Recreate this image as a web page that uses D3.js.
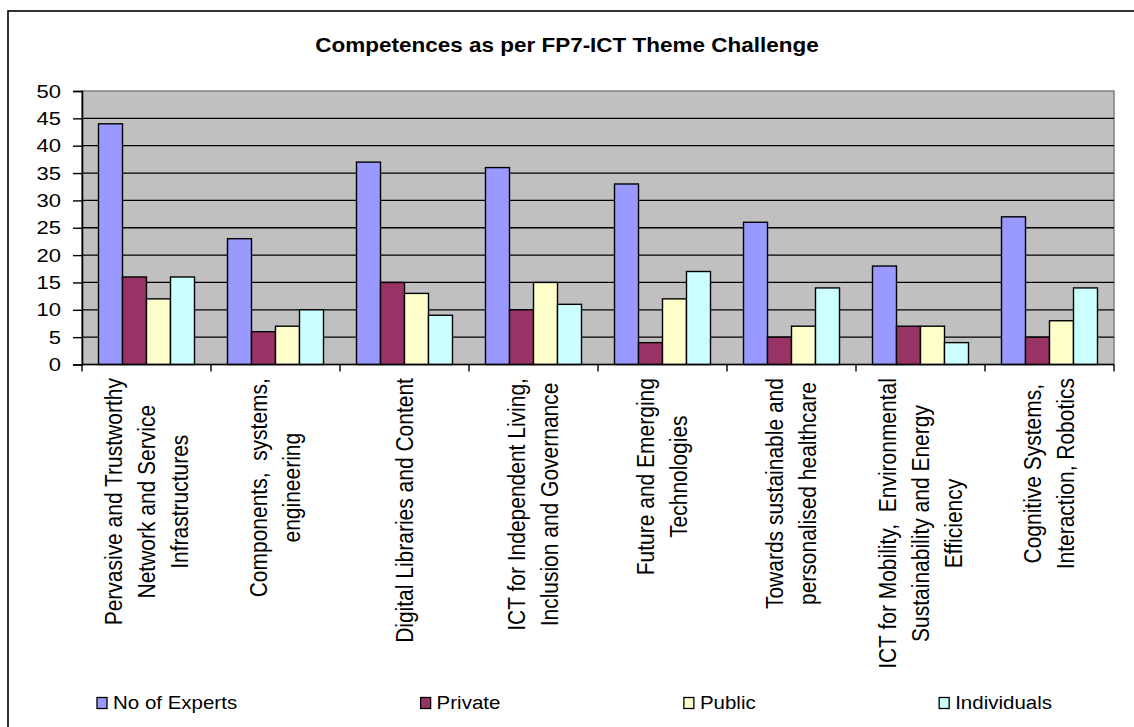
<!DOCTYPE html>
<html><head><meta charset="utf-8">
<script src="https://cdn.jsdelivr.net/npm/d3@7"></script>
<style>body{margin:0;background:#fff}svg{display:block}text{font-family:Arial,"Liberation Sans",sans-serif;white-space:pre}</style>
</head><body>
<svg id="c" width="1134" height="727"></svg>
<script>
const title = "Competences as per FP7-ICT Theme Challenge";
const categories = [
  "Pervasive and Trustworthy|Network and Service|Infrastructures",
  "Components,  systems,|engineering",
  "Digital Libraries and Content",
  "ICT for Independent Living,|Inclusion and Governance",
  "Future and Emerging|Technologies",
  "Towards sustainable and|personalised healthcare",
  "ICT for Mobility,  Environmental|Sustainability and Energy|Efficiency",
  "Cognitive Systems,|Interaction, Robotics"
];
const seriesNames = ["No of Experts", "Private", "Public", "Individuals"];
const experts = [44, 23, 37, 36, 33, 26, 18, 27];
const privateV = [16, 6, 15, 10, 4, 5, 7, 5];
const publicV = [12, 7, 13, 15, 12, 7, 7, 8];
const individuals = [16, 10, 9, 11, 17, 14, 4, 14];
const yTicks = [0, 5, 10, 15, 20, 25, 30, 35, 40, 45, 50];
const colors = ["#9999FF", "#993366", "#FFFFCC", "#CCFFFF"];

const series = [experts, privateV, publicV, individuals];
const svg = d3.select("#c");

// outer border
svg.append("rect").attr("x", 8).attr("y", 11).attr("width", 1200).attr("height", 800)
  .attr("fill", "#fff").attr("stroke", "#000").attr("stroke-width", 1.6);

const L = 82, R = 1114, T = 91, B = 364.5;
const x = d3.scaleBand().domain(d3.range(categories.length)).range([L, R]);
const y = d3.scaleLinear().domain([0, 50]).range([B, T]);
const groupW = 96;
const xs = d3.scaleBand().domain(d3.range(4)).range([0, groupW]);

// plot background
svg.append("rect").attr("x", L).attr("y", T).attr("width", R - L).attr("height", B - T)
  .attr("fill", "#C0C0C0").attr("stroke", "#808080").attr("stroke-width", 1.5);

// gridlines
svg.append("g").selectAll("line").data(yTicks.filter(d => d > 0 && d < 50)).join("line")
  .attr("x1", L).attr("x2", R).attr("y1", d => y(d)).attr("y2", d => y(d))
  .attr("stroke", "#000").attr("stroke-width", 1.3);

// bars
series.forEach((vals, si) => {
  svg.append("g").selectAll("rect").data(vals).join("rect")
    .attr("x", (d, i) => x(i) + (x.bandwidth() - groupW) / 2 + xs(si))
    .attr("y", d => y(d))
    .attr("width", xs.bandwidth())
    .attr("height", d => y(0) - y(d))
    .attr("fill", colors[si]).attr("stroke", "#000").attr("stroke-width", 1.4);
});

// y axis
const yAxis = svg.append("g").attr("transform", `translate(${L},0)`)
  .call(d3.axisLeft(y).tickValues(yTicks).tickSize(9).tickPadding(0).tickFormat(d3.format("d")));
yAxis.select(".domain").attr("stroke", "#000").attr("stroke-width", 1.6);
yAxis.selectAll(".tick line").attr("stroke", "#000").attr("stroke-width", 1.4);
yAxis.selectAll(".tick text").each(function(){
  const t = d3.select(this);
  t.attr("x", null).attr("dy", null).attr("fill", "#000").attr("font-size", 22)
   .attr("text-anchor", "end").attr("dominant-baseline", "central")
   .attr("transform", "translate(-21,0) scale(1,0.8)");
});
yAxis.attr("font-family", null);

// x axis
svg.append("line").attr("x1", L).attr("x2", R).attr("y1", B).attr("y2", B)
  .attr("stroke", "#000").attr("stroke-width", 1.6);
const xTicks = d3.range(categories.length + 1).map(i => i < categories.length ? x(i) : R);
svg.append("g").selectAll("line").data(xTicks).join("line")
  .attr("x1", d => d).attr("x2", d => d).attr("y1", B).attr("y2", B + 7)
  .attr("stroke", "#000").attr("stroke-width", 1.4);

// category labels (rotated)
const lineGap = 33;
categories.forEach((c, i) => {
  const lines = c.split("|");
  const g = svg.append("g")
    .attr("transform", `translate(${x(i) + x.bandwidth() / 2},378) rotate(-90)`);
  const texts = g.selectAll("text").data(lines).join("text")
    .attr("font-size", 21).attr("fill", "#000")
    .attr("text-anchor", "middle").attr("dominant-baseline", "central")
    .text(d => d);
  let W = 0;
  texts.each(function(){ W = Math.max(W, this.getComputedTextLength()); });
  texts.attr("transform", (d, k) =>
    `translate(${-W / 2},${(k - (lines.length - 1) / 2) * lineGap}) scale(1,1.15)`);
});

// title
svg.append("text").attr("x", 567).attr("y", 45).attr("text-anchor", "middle")
  .attr("dominant-baseline", "central").attr("font-weight", "bold").attr("font-size", 22.5)
  .attr("transform", "translate(567,45) scale(1,0.9) translate(-567,-45)")
  .text(title);

// legend
const legY = 703, legL = 97, legR = 1052;
const items = svg.append("g").selectAll("g").data(seriesNames).join("g");
items.append("rect").attr("x", 0).attr("y", -5.5).attr("width", 10).attr("height", 11)
  .attr("fill", (d, i) => colors[i]).attr("stroke", "#000").attr("stroke-width", 1.3);
items.append("text").attr("x", 0).attr("y", 0).attr("font-size", 20.5)
  .attr("dominant-baseline", "central").attr("fill", "#000")
  .attr("transform", "translate(16,0) scale(1,0.85)")
  .text(d => d);
const widths = [];
items.each(function(){ widths.push(16 + d3.select(this).select("text").node().getComputedTextLength()); });
const gap = (legR - legL - d3.sum(widths)) / (widths.length - 1);
let cx = legL;
items.attr("transform", (d, i) => { const tx = cx; cx += widths[i] + gap; return `translate(${tx},${legY})`; });
</script>
</body></html>
